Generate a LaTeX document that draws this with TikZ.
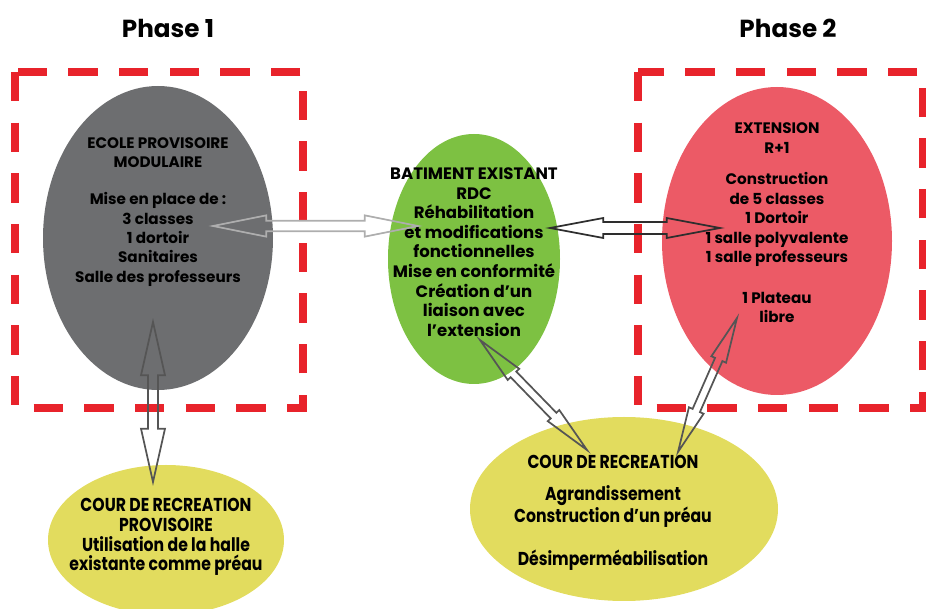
\documentclass[tikz,border=0pt]{standalone}
\usepackage{fontspec}
\setmainfont{Poppins}
\newfontfamily\tallfont{Poppins}[FakeStretch=0.84]
\usetikzlibrary{calc,shapes.geometric}
\definecolor{grisE}{HTML}{6D6E70}
\definecolor{vertE}{HTML}{7DC142}
\definecolor{rougeE}{HTML}{EC5A66}
\definecolor{jauneE}{HTML}{E2DC5E}
\definecolor{rougeF}{HTML}{E8232B}
\definecolor{grisA}{HTML}{AEAEAE}
\definecolor{noirA}{HTML}{2E2E2E}
\definecolor{grisB}{HTML}{555555}
% outline arrow with two heads: [style] {tip}{tip}{head length}{head half width}{shaft half width}
\newcommand\dblarrow[6][]{%
  \draw[#1] (#2)
    -- ($($(#2)!#4!(#3)$)!#5!90:(#3)$)
    -- ($($(#2)!#4!(#3)$)!#6!90:(#3)$)
    -- ($($(#3)!#4!(#2)$)!#6!-90:(#2)$)
    -- ($($(#3)!#4!(#2)$)!#5!-90:(#2)$)
    -- (#3)
    -- ($($(#3)!#4!(#2)$)!#5!90:(#2)$)
    -- ($($(#3)!#4!(#2)$)!#6!90:(#2)$)
    -- ($($(#2)!#4!(#3)$)!#6!-90:(#3)$)
    -- ($($(#2)!#4!(#3)$)!#5!-90:(#3)$)
    -- cycle;}

\begin{document}
\begin{tikzpicture}[
x=0.75pt, y=-0.75pt,
    E/.style = {ellipse, inner sep=0pt, outer sep=0pt},% coloured bubbles
    T/.style = {align=center, inner sep=0pt,% text in bubbles
                font=\fontsize{11.4}{14.6}\selectfont\bfseries},
    N/.style = {align=center, inner sep=0pt,% narrow text in yellow bubbles
                font=\tallfont\fontsize{14}{14.8}\selectfont\bfseries},
    H/.style = {font=\fontsize{18.5}{20}\selectfont\bfseries},% phase titles
    F/.style = {draw=rougeF, line width=6pt,% dashed frames
                dash pattern=on 22pt off 16pt},
    A/.style = {line width=1.3pt, line join=miter},
                        ]
\useasboundingbox (0,0) rectangle (926,609);
% titles
\node[H] (ph1) at (168,28) {Phase 1};
\node[H] (ph2) at (788,28) {Phase 2};
% frames
\draw[F] (15,72) rectangle (303,408);
\draw[F] (638,72) rectangle (923,408);
% bubbles
\node[E, fill=grisE, minimum width=172.5pt, minimum height=228pt] (ecole) at (158,238) {};
\node[E, fill=vertE, minimum width=129pt, minimum height=187.5pt] (bat) at (474,259) {};
\node[E, fill=rougeE, minimum width=172.5pt, minimum height=231pt] (ext) at (777,241) {};
\node[E, fill=jauneE, minimum width=177pt, minimum height=112.5pt] (courP) at (166,540) {};
\node[E, fill=jauneE, minimum width=231pt, minimum height=138pt] (cour) at (624,509) {};
% texts
\node[T] (ecoleT) at (158,212) {ECOLE PROVISOIRE\\MODULAIRE\\[13pt]
  Mise en place de :\\3 classes\\1 dortoir\\Sanitaires\\Salle des professeurs};
\node[T, font=\fontsize{12.4}{14.7}\selectfont\bfseries] (batT) at (474,252) {BATIMENT EXISTANT\\RDC\\R\'ehabilitation\\
  et modifications\\fonctionnelles\\Mise en conformit\'e\\Cr\'eation d’un\\liaison avec\\l’extension};
\node[T] (extT) at (777,223) {EXTENSION\\R+1\\[9pt]Construction\\de 5 classes\\1 Dortoir\\
  1 salle polyvalente\\1 salle professeurs\\[16pt]1 Plateau\\libre};
\node[N] (courPT) at (166,537) {COUR DE RECREATION\\PROVISOIRE\\Utilisation de la halle\\existante comme pr\'eau};
\node[N] (courT) at (613,513) {COUR DE RECREATION\\[9pt]Agrandissement\\Construction d’un pr\'eau\\[16pt]D\'esimperm\'eabilisation};
% arrow tips
\coordinate (e1) at (213,226);  \coordinate (b1) at (418,226);
\coordinate (b2) at (550,228);  \coordinate (x2) at (720,228);
\coordinate (e3) at (153,322);  \coordinate (p3) at (153,482);
\coordinate (b4) at (480,340);  \coordinate (c4) at (587,450);
\coordinate (x5) at (737,318);  \coordinate (c5) at (678,452);
% arrows
\dblarrow[A, draw=grisA]{e1}{b1}{40pt}{8pt}{4pt}
\dblarrow[A, draw=noirA]{b2}{x2}{40pt}{7.5pt}{4.5pt}
\dblarrow[A, draw=grisB]{e3}{p3}{40pt}{9pt}{3.8pt}
\dblarrow[A, draw=grisB]{b4}{c4}{36pt}{6pt}{3pt}
\dblarrow[A, draw=grisB]{x5}{c5}{34pt}{6pt}{3pt}
\end{tikzpicture}
\end{document}
